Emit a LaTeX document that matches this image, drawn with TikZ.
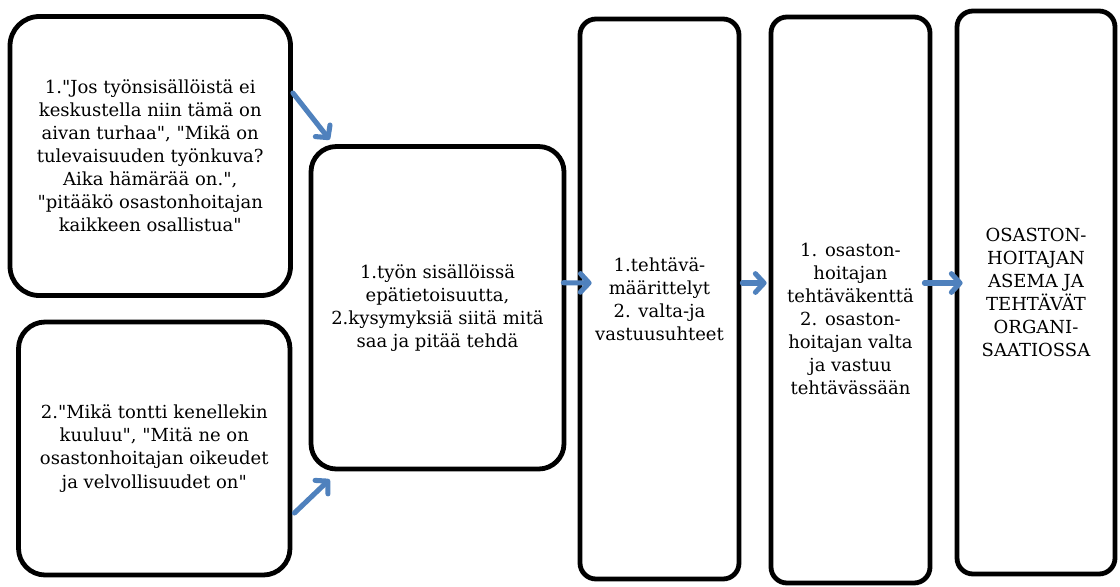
\documentclass[tikz,border=0pt]{standalone}
\usepackage{fontspec}
\setmainfont{DejaVu Serif}[Ligatures=TeXOff]
\usetikzlibrary{arrows.meta,calc}
\definecolor{flowblue}{HTML}{4F81BD}
\begin{document}
\begin{tikzpicture}[x=0.75pt,y=-0.75pt,
  box/.style={draw=black, line width=3.6pt, align=center, inner sep=0pt,
    font=\fontsize{13.5}{17.3}\selectfont},
  flow/.style={draw=flowblue, line width=3.8pt, line cap=round,
    -{Straight Barb[length=6.5pt,width=14pt,line cap=round,line join=round]}}]
% page
\fill[white] (0,0) rectangle (1120,586);
\useasboundingbox (0,0) rectangle (1120,586);

% interview quotes
\node[box, rounded corners=22pt, minimum width={280.5*0.75pt}, minimum height={279*0.75pt}]
  (A) at (150.25,156) {1."Jos työnsisällöistä ei\\keskustella niin tämä on\\aivan turhaa", "Mikä on\\tulevaisuuden työnkuva?\\Aika hämärää on.",\\"pitääkö osastonhoitajan\\kaikkeen osallistua"};
\node[box, rounded corners=20pt, minimum width={271.5*0.75pt}, minimum height={253*0.75pt}]
  (B) at (154.25,448.5) {2."Mikä tontti kenellekin\\kuuluu", "Mitä ne on\\osastonhoitajan oikeudet\\ja velvollisuudet on"};

% reduced expressions
\node[box, rounded corners=19pt, minimum width={253*0.75pt}, minimum height={322.5*0.75pt}]
  (C) at (437.5,307.75) {1.työn sisällöissä\\epätietoisuutta,\\2.kysymyksiä siitä mitä\\saa ja pitää tehdä};

% subcategories
\node[box, rounded corners=12pt, minimum width={159*0.75pt}, minimum height={560*0.75pt}]
  (D) at (659.5,299) {1.tehtävä-\\määrittelyt\\2. valta-ja\\vastuusuhteet};
\node[box, rounded corners=12pt, minimum width={159*0.75pt}, minimum height={566*0.75pt}]
  (E) at (850.5,300) {{}\\[21pt]1. osaston-\\hoitajan\\tehtäväkenttä\\2. osaston-\\hoitajan valta\\ja vastuu\\tehtävässään};

% main category
\node[box, rounded corners=12pt, minimum width={158*0.75pt}, minimum height={563*0.75pt}]
  (F) at (1036,292.5) {OSASTON-\\HOITAJAN\\ASEMA JA\\TEHTÄVÄT\\ORGANI-\\SAATIOSSA};

% flow
\draw[flow] ($(A.east)+(0,-63)$) -- ($(C.north west)+(21,-4.5)$);
\draw[flow] ($(B.east)+(2,64.5)$) -- ($(C.south west)+(21,8)$);
\draw[flow] ($(C.east)+(-3,-25)$) -- ($(D.west)+(14,-16)$);
\draw[flow] ($(D.east)+(1,-16)$) -- ($(E.west)+(-2,-17)$);
\draw[flow] ($(E.east)+(-8,-17)$) -- ($(F.west)+(8,-9.5)$);
\end{tikzpicture}
\end{document}
